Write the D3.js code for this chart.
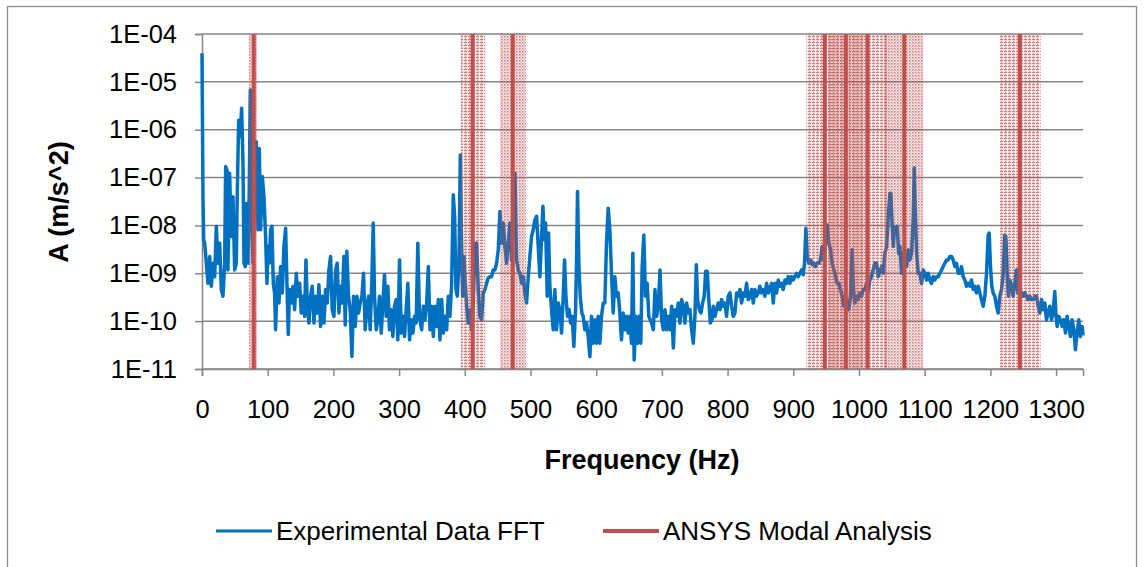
<!DOCTYPE html>
<html>
<head>
<meta charset="utf-8">
<script src="https://cdn.jsdelivr.net/npm/d3@7"></script>
<style>
  body { margin: 0; background: #fff; }
  text { font-family: "Liberation Sans", Arial, sans-serif; fill: #000; }
</style>
</head>
<body>
<div id="chart"></div>
<script>
// FFT trace: [frequency (Hz), log10 of A (m/s^2)]
const fftPoints = [
  [0,-4.40],[1.5,-7.40],[2.5,-8.30],[4,-8.37],[6.6,-8.79],[9.1,-9.21],[11.7,-8.65],[14.2,-9.27],
  [16.7,-8.79],[19.3,-9.07],[21.8,-8.02],[24.3,-8.79],[26.9,-8.37],[29.4,-9.34],[31.9,-9.48],[34.5,-8.79],
  [36,-6.77],[38,-6.84],[39.5,-8.93],[42,-6.91],[44.6,-8.23],[47.2,-7.40],[49.7,-8.93],[52.2,-8.79],
  [53.7,-7.33],[55.8,-5.80],[58.3,-6.14],[60.3,-5.55],[62.4,-6.70],[63.9,-8.79],[65.9,-8.86],[67.9,-7.54],
  [70,-8.79],[72,-7.19],[73.5,-5.17],[75,-7.54],[77.6,-8.79],[80.1,-7.19],[82.6,-6.25],[85.2,-8.09],
  [87.2,-6.39],[89.2,-8.09],[91.8,-6.98],[94.3,-7.40],[96.8,-8.23],[98.9,-9.21],[100.4,-8.44],[102.4,-8.79],
  [104.4,-8.09],[106.5,-8.02],[108.5,-9.21],[110.5,-9.41],[112,-10.18],[114.6,-9.07],[117.1,-9.62],[119.7,-8.86],
  [122.2,-9.41],[124.7,-8.44],[127.3,-8.06],[129.3,-9.21],[131.3,-10.28],[133.3,-9.34],[135.9,-9.62],[138.4,-9.27],
  [141,-9.76],[143.5,-9.00],[146,-9.48],[148.6,-9.21],[151.1,-9.83],[153.6,-9.48],[156.2,-9.90],[158.2,-8.72],
  [160.2,-9.62],[162.7,-10.04],[165.3,-9.48],[167.8,-9.27],[170.4,-10.04],[172.9,-9.48],[175.4,-9.83],[178,-9.24],
  [180.5,-10.11],[183,-9.48],[185.6,-10.04],[188.1,-9.34],[190.6,-9.62],[193.2,-8.93],[195.7,-8.65],[198.2,-9.76],
  [200.8,-9.90],[203.3,-8.93],[205.8,-8.79],[208.4,-9.83],[210.9,-9.27],[213.4,-9.62],[216,-8.65],[218,-10.08],
  [220.5,-8.54],[223,-9.48],[225.6,-9.76],[228.2,-10.74],[230.7,-9.48],[233.2,-10.11],[235.8,-9.48],[238.3,-9.83],
  [240.8,-9.62],[243.4,-9.48],[245.9,-9.00],[248.4,-10.18],[251,-9.69],[253.5,-9.48],[256,-10.18],[258.6,-9.14],
  [260.6,-7.95],[262.6,-9.48],[265.2,-10.18],[267.7,-9.97],[270.2,-9.48],[272.8,-10.25],[275.3,-9.62],[277.8,-9.03],
  [280.4,-9.90],[282.9,-9.27],[285.4,-10.18],[288,-9.76],[290.5,-10.32],[293,-9.69],[295.6,-9.55],[298.1,-10.39],
  [300.7,-8.72],[303.2,-10.25],[305.7,-9.90],[308.3,-10.32],[310.8,-9.76],[313.3,-9.21],[315.9,-10.39],[318.4,-9.97],
  [321,-10.25],[323.5,-9.90],[326,-10.04],[328.5,-8.37],[331,-9.90],[334.3,-10.18],[336.9,-9.69],[339.4,-9.97],
  [342,-9.62],[344.5,-8.86],[347,-10.18],[349.5,-9.69],[352.1,-10.32],[354.6,-9.69],[357.2,-10.11],[359.7,-9.55],
  [362.2,-10.39],[364.8,-9.55],[367.3,-10.25],[369.8,-9.90],[372.4,-10.18],[374.9,-9.48],[377.4,-9.90],[380,-9.21],
  [382.5,-7.36],[384.5,-7.81],[386.6,-9.34],[388.6,-9.48],[391.1,-8.79],[393.2,-6.53],[394.7,-8.09],[396.7,-9.48],
  [398.7,-8.65],[400.8,-9.21],[402.8,-9.69],[405.3,-10.04],[407.9,-9.76],[410.4,-10.18],[412.9,-9.62],[415.5,-8.37],
  [418,-8.37],[420.5,-9.34],[423.1,-9.90],[425.6,-9.97],[428.1,-9.41],[430.7,-9.34],[433.2,-9.21],[435.7,-9.10],
  [438.3,-9.07],[440.8,-9.07],[443.3,-8.93],[445.9,-8.93],[448.4,-8.79],[451,-8.51],[453.5,-7.71],[456,-8.37],
  [458.6,-7.95],[461.1,-8.44],[463.6,-8.79],[466.2,-8.37],[468.7,-7.95],[471.2,-8.72],[473.8,-7.81],[476.3,-6.91],
  [478.8,-8.72],[481.4,-8.93],[483.9,-9.00],[486.4,-9.21],[489,-9.07],[491.5,-9.41],[494,-9.62],[496.6,-9.07],
  [499.1,-8.65],[501.6,-8.23],[504.2,-8.09],[506.7,-7.88],[509.3,-7.81],[511.8,-8.44],[514.3,-9.07],[516.9,-8.23],
  [518.9,-7.60],[520.9,-8.30],[522.9,-7.95],[525.5,-9.48],[527.5,-8.16],[529.5,-9.27],[532.1,-9.76],[534.6,-10.18],
  [537.1,-9.34],[539.7,-10.18],[542.2,-9.62],[544.7,-9.76],[547.3,-10.25],[549.8,-9.48],[551.8,-8.72],[553.9,-9.48],
  [556.4,-9.90],[558.9,-9.76],[561,-10.04],[563.5,-9.90],[566,-10.53],[568.6,-9.76],[570.1,-8.79],[571.6,-7.29],
  [573.6,-8.79],[575.7,-9.48],[578.2,-9.83],[580.2,-9.90],[582.8,-10.18],[585.3,-10.04],[587.8,-10.32],[590.4,-10.74],
  [592.9,-9.90],[595.4,-10.46],[598,-9.97],[600.5,-10.46],[603,-9.90],[605.6,-10.46],[608.1,-9.90],[610.7,-9.62],
  [613.2,-9.62],[615.7,-8.37],[618.3,-7.64],[620.8,-8.09],[623.3,-9.00],[625.9,-9.83],[628.4,-9.07],[630.9,-9.48],
  [633.5,-9.41],[636,-9.83],[638.5,-10.39],[641.1,-9.83],[643.6,-10.18],[646.1,-9.90],[648.7,-10.25],[651.2,-9.90],
  [653.7,-10.46],[655.8,-8.58],[657.8,-10.81],[660.3,-9.90],[662.9,-10.46],[665.4,-9.90],[667.9,-10.46],[670,-8.86],
  [672.5,-8.20],[675,-9.48],[677.6,-9.21],[680.1,-9.90],[684.4,-10.04],[687,-10.18],[689.5,-9.34],[692,-9.90],
  [694.6,-9.69],[697.1,-8.93],[699.6,-9.97],[702.2,-10.18],[704.7,-9.76],[707.3,-10.18],[709.8,-9.90],[712.3,-10.18],
  [714.9,-9.69],[717.4,-10.56],[719.9,-9.76],[722.5,-9.90],[725,-9.62],[727.5,-10.04],[730.1,-9.55],[732.6,-9.69],
  [735.1,-10.04],[737.7,-9.62],[740.2,-9.83],[742.7,-9.76],[745.3,-10.18],[747.8,-10.46],[750.3,-9.90],[752.4,-8.82],
  [754.4,-9.55],[756.9,-9.76],[759.5,-9.83],[762,-9.62],[764.5,-9.48],[766.6,-8.96],[769.1,-8.96],[771.1,-9.48],
  [773.7,-10.04],[776.2,-9.97],[778.2,-9.69],[780.8,-9.90],[783.3,-9.76],[785.8,-9.62],[788.4,-9.76],[790.9,-9.55],
  [793.4,-9.69],[796,-9.62],[798.5,-9.90],[801,-9.48],[803.6,-9.41],[806.1,-9.69],[808.7,-9.90],[811.2,-9.83],
  [813.7,-9.41],[816.3,-9.48],[818.8,-9.34],[821.3,-9.62],[823.9,-9.41],[826.4,-9.48],[829,-9.21],[831.5,-9.55],
  [834,-9.48],[836.5,-9.34],[839.1,-9.62],[841.6,-9.34],[844.1,-9.48],[846.7,-9.41],[849.2,-9.27],[851.7,-9.41],
  [854.3,-9.34],[856.8,-9.48],[859.4,-9.21],[861.9,-9.41],[864.4,-9.34],[867,-9.21],[869.5,-9.62],[872,-9.21],
  [874.6,-9.41],[877.1,-9.14],[879.6,-9.27],[882.2,-9.21],[884.7,-9.34],[887.2,-9.14],[889.8,-9.21],[892.3,-9.07],
  [894.8,-9.21],[897.4,-9.07],[899.9,-9.14],[902.4,-9.07],[905,-9.00],[907.5,-9.07],[910.1,-9.00],[912.6,-8.93],
  [915.1,-9.03],[917.1,-8.79],[919.2,-8.06],[921.2,-8.65],[923.7,-8.79],[926.3,-8.72],[928.8,-8.82],[931.3,-8.79],
  [933.9,-8.86],[936.4,-8.79],[938.9,-8.79],[941.5,-8.72],[944,-8.44],[946.6,-8.72],[949.1,-8.37],[951.6,-7.99],
  [954.2,-8.37],[956.7,-8.51],[959.2,-8.79],[961.8,-8.93],[964.3,-9.07],[966.8,-9.21],[969.4,-9.21],[971.9,-9.34],
  [974.4,-9.48],[977,-9.69],[979.5,-9.48],[982,-9.62],[984.6,-9.76],[987.1,-9.48],[989.7,-8.51],[991.7,-9.34],
  [993.7,-9.62],[996.2,-9.48],[998.8,-9.55],[1001.3,-9.41],[1003.8,-9.48],[1006.4,-9.34],[1008.9,-9.34],[1011.5,-9.21],
  [1014,-9.41],[1016.5,-9.14],[1019.1,-9.07],[1021.6,-8.93],[1024.1,-8.79],[1026.7,-8.79],[1029.2,-9.07],[1034.4,-8.86],
  [1037,-9.00],[1039.5,-8.58],[1042,-8.44],[1044.6,-7.81],[1047.1,-7.33],[1048.6,-7.33],[1050.1,-7.88],[1052.2,-8.44],
  [1054.2,-8.02],[1056.2,-8.16],[1058.3,-8.02],[1060.3,-8.58],[1062.3,-8.44],[1064.8,-9.00],[1067.4,-8.58],[1069.9,-8.72],
  [1072.5,-8.86],[1075,-8.51],[1077.5,-8.72],[1080.1,-8.58],[1082.6,-7.88],[1084.1,-6.80],[1085.6,-7.60],[1087.7,-8.58],
  [1090.2,-9.00],[1092.7,-9.00],[1095.3,-9.21],[1097.8,-8.93],[1100.3,-9.00],[1102.9,-9.14],[1105.4,-9.00],[1107.9,-9.14],
  [1110.5,-9.21],[1113,-9.07],[1115.5,-9.14],[1118.1,-9.07],[1120.6,-9.07],[1123.2,-9.00],[1125.7,-8.93],[1128.2,-8.86],
  [1130.8,-8.79],[1133.3,-8.72],[1135.8,-8.72],[1138.4,-8.65],[1140.9,-8.65],[1143.4,-8.72],[1146,-8.86],[1148.5,-8.79],
  [1151,-9.00],[1153.6,-9.00],[1156.1,-8.86],[1158.6,-9.07],[1161.2,-9.14],[1163.7,-9.27],[1166.2,-9.21],[1168.8,-9.27],
  [1171.3,-9.14],[1173.9,-9.34],[1176.4,-9.27],[1178.9,-9.41],[1181.5,-9.27],[1184,-9.41],[1186.5,-9.55],[1189.1,-9.69],
  [1191.6,-9.48],[1194.1,-9.00],[1196.7,-8.20],[1198.2,-8.16],[1200.2,-8.86],[1202.2,-9.27],[1204.3,-9.41],[1206.8,-9.48],
  [1209.3,-9.69],[1211.9,-9.83],[1214.4,-9.48],[1217,-9.34],[1219.5,-9.00],[1222,-8.20],[1223.5,-8.23],[1225.6,-9.00],
  [1227.6,-9.48],[1229.6,-9.14],[1232.2,-9.27],[1234.7,-9.48],[1237.2,-9.21],[1239.8,-8.93],[1241.8,-9.41],[1244.8,-9.34],
  [1247.4,-9.41],[1249.9,-9.48],[1252.4,-9.41],[1255,-9.48],[1257.5,-9.55],[1260,-9.48],[1262.6,-9.55],[1265.1,-9.55],
  [1267.6,-9.48],[1270.2,-9.48],[1272.7,-9.69],[1275.3,-9.83],[1277.8,-9.55],[1280.3,-9.76],[1282.9,-9.62],[1285.4,-9.97],
  [1287.9,-9.83],[1290.5,-9.69],[1293,-9.97],[1295.5,-9.83],[1298.1,-9.38],[1299.6,-9.83],[1301.6,-10.11],[1304.1,-9.90],
  [1306.7,-9.97],[1309.2,-10.11],[1311.8,-9.97],[1314.3,-10.25],[1316.8,-9.90],[1319.4,-10.11],[1321.9,-10.32],[1324.4,-9.97],
  [1327,-10.18],[1329.5,-10.60],[1332,-10.25],[1334.6,-9.97],[1337.1,-10.32],[1339.7,-10.11],[1341,-10.30]
];

// ANSYS modal frequencies and the shaded band around each one (Hz)
const ansysHz  = [78.7, 412, 473, 948, 980, 1013, 1069, 1245];
const bandLow  = [71.5, 394, 453.5, 920, 953, 984, 1038, 1214.6];
const bandHigh = [84, 431, 493, 976, 1008, 1043, 1098, 1276.6];

const xTicks = [0, 100, 200, 300, 400, 500, 600, 700, 800, 900, 1000, 1100, 1200, 1300];
const yTicks = [1e-4, 1e-5, 1e-6, 1e-7, 1e-8, 1e-9, 1e-10, 1e-11];
const yTickLabels = ["1E-04", "1E-05", "1E-06", "1E-07", "1E-08", "1E-09", "1E-10", "1E-11"];

const blue = "#0070C0", red = "#C0504D", grid = "#868686";
const W = 1144, H = 567;
const plotLeft = 202, plotRight = 1083, plotTop = 34, plotBottom = 369;

const svg = d3.select("#chart").append("svg")
  .attr("width", W).attr("height", H);

// outer chart border (bottom edge falls outside the picture)
svg.append("rect")
  .attr("x", 7.5).attr("y", 6.5).attr("width", 1129).attr("height", 570)
  .attr("fill", "none").attr("stroke", "#8c8c8c").attr("stroke-width", 1.3);

const x = d3.scaleLinear().domain([0, 1341]).range([plotLeft, plotRight]);
const y = d3.scaleLog().domain([1e-11, 1e-4]).range([plotBottom, plotTop]);

// hatch patterns for the bands
const defs = svg.append("defs");
const pA = defs.append("pattern").attr("id", "hatchA")
  .attr("patternUnits", "userSpaceOnUse").attr("width", 3).attr("height", 3);
pA.append("rect").attr("width", 3).attr("height", 3).attr("fill", red).attr("opacity", 0.1);
pA.append("rect").attr("width", 1.5).attr("height", 1.5).attr("fill", red).attr("opacity", 0.75);
pA.append("rect").attr("x", 1.5).attr("y", 1.5).attr("width", 1.2).attr("height", 1.2).attr("fill", red).attr("opacity", 0.5);
const pB = defs.append("pattern").attr("id", "hatchB")
  .attr("patternUnits", "userSpaceOnUse").attr("width", 4).attr("height", 3);
pB.append("rect").attr("width", 4).attr("height", 3).attr("fill", red).attr("opacity", 0.1);
pB.append("rect").attr("width", 3).attr("height", 1.2).attr("fill", red).attr("opacity", 0.7);
pB.append("rect").attr("x", 1).attr("y", 2).attr("width", 1.2).attr("height", 1).attr("fill", red).attr("opacity", 0.5);

// gridlines
svg.append("g")
  .selectAll("line")
  .data(yTicks)
  .join("line")
  .attr("x1", plotLeft).attr("x2", plotRight)
  .attr("y1", d => y(d)).attr("y2", d => y(d))
  .attr("stroke", grid).attr("stroke-width", 1.5);

// y axis
const yAxis = svg.append("g")
  .attr("transform", `translate(${plotLeft},0)`)
  .call(d3.axisLeft(y).tickValues(yTicks).tickFormat((d, i) => yTickLabels[i]).tickSize(7).tickPadding(18));
yAxis.select(".domain").attr("stroke", grid).attr("stroke-width", 1.5);
yAxis.selectAll(".tick line").attr("stroke", grid).attr("stroke-width", 1.5);
yAxis.selectAll(".tick text").attr("font-size", 25.5).attr("font-family", "Liberation Sans, Arial, sans-serif").attr("fill", "#000");

// x axis
const xAxis = svg.append("g")
  .attr("transform", `translate(0,${plotBottom})`)
  .call(d3.axisBottom(x).tickValues(xTicks).tickFormat(d3.format("d")).tickSize(7).tickPadding(24));
xAxis.select(".domain").attr("stroke", grid).attr("stroke-width", 1.5);
xAxis.selectAll(".tick line").attr("stroke", grid).attr("stroke-width", 1.5);
xAxis.selectAll(".tick text").attr("font-size", 25.5).attr("font-family", "Liberation Sans, Arial, sans-serif").attr("fill", "#000");

// FFT line
const line = d3.line()
  .x(d => x(d[0]))
  .y(d => y(Math.pow(10, d[1])));

svg.append("path")
  .datum(fftPoints)
  .attr("fill", "none")
  .attr("stroke", blue)
  .attr("stroke-width", 3.5)
  .attr("stroke-linejoin", "round")
  .attr("d", line);

// bands around the modal frequencies
svg.append("g")
  .selectAll("rect")
  .data(ansysHz)
  .join("rect")
  .attr("x", (d, i) => x(bandLow[i]))
  .attr("width", (d, i) => x(bandHigh[i]) - x(bandLow[i]))
  .attr("y", plotTop).attr("height", plotBottom - plotTop)
  .attr("fill", (d, i) => i % 2 ? "url(#hatchB)" : "url(#hatchA)");

// modal frequency lines
svg.append("g")
  .selectAll("line")
  .data(ansysHz)
  .join("line")
  .attr("x1", d => x(d)).attr("x2", d => x(d))
  .attr("y1", plotTop).attr("y2", plotBottom)
  .attr("stroke", red).attr("stroke-width", 4);

// axis titles
svg.append("text")
  .attr("transform", "translate(68,202) rotate(-90)")
  .attr("text-anchor", "middle")
  .attr("font-size", 27).attr("font-weight", "bold")
  .text("A (m/s^2)");

svg.append("text")
  .attr("x", 642).attr("y", 469)
  .attr("text-anchor", "middle")
  .attr("font-size", 27).attr("font-weight", "bold")
  .text("Frequency (Hz)");

// legend
const legend = [
  {name: "Experimental Data FFT", color: blue, x: 216, w: 3},
  {name: "ANSYS Modal Analysis", color: red, x: 603, w: 4}
];
const lg = svg.append("g").selectAll("g").data(legend).join("g");
lg.append("line")
  .attr("x1", d => d.x).attr("x2", d => d.x + 56)
  .attr("y1", 531).attr("y2", 531)
  .attr("stroke", d => d.color).attr("stroke-width", d => d.w);
lg.append("text")
  .attr("x", d => d.x + 60).attr("y", 540)
  .attr("font-size", 26)
  .text(d => d.name);
</script>
</body>
</html>
